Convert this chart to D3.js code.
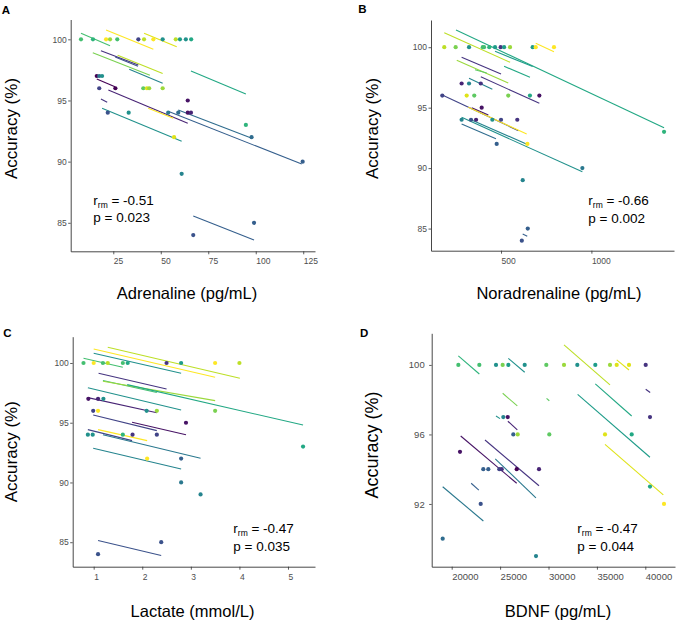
<!DOCTYPE html>
<html>
<head>
<meta charset="utf-8">
<script src="https://cdn.jsdelivr.net/npm/d3@7"></script>
<style>
  html, body { margin: 0; padding: 0; background: #fff; }
  svg { display: block; font-family: "Liberation Sans", Arial, sans-serif; }
</style>
</head>
<body>
<script>
// ---------------- DATA ----------------
// participant colour code: 0..20 on the viridis scale
const participantMax = 20;

// Panel A: Adrenaline (pg/mL) vs Accuracy (%)
const xTicksA = [25, 50, 75, 100, 125];
const yTicksA = [85, 90, 95, 100];
const pointsA = [ // [adrenaline, accuracy, participant]
  [8.0,100,14],[14.3,100,13],[21.2,100,20],[23.3,100,17],[27.1,100,14],[38.2,100,4],[41.2,100,18],
  [46.1,100,20],[51.0,100,10],[57.9,100,18],[60.1,100,11],[63.2,100,10],[66.0,100,12],
  [16.3,97,0],[17.6,97,8],[19.1,97,10],
  [17.6,96,4],[26.1,96,0],[40.8,96,15],[42.7,96,19],[43.9,96,17],[51.0,96,17],
  [64.2,95,1],
  [22.1,94,5],[33.1,94,10],[53.9,94,8],[59.2,94,7],[64.2,94,1],[65.9,94,2],
  [94.8,93,13],
  [57.0,92,19],[97.8,92,7],
  [124.7,90,6],
  [61.0,89,9],
  [99.1,85,6],
  [67.1,84,5]
];
const linesA = [ // [x start, accuracy start, x end, accuracy end, participant]
  [8.0,100.49,23.3,99.48,14],
  [21.2,100.76,46.1,99.18,20],
  [41.2,100.49,58.4,99.40,19],
  [18.5,99.07,38.2,97.90,3],
  [27.3,98.69,51.0,97.20,18],
  [14.2,98.90,44.3,97.06,16],
  [26.0,98.55,38.0,97.80,5],
  [33.4,97.55,51.0,96.40,9],
  [65.9,97.41,94.8,95.53,12],
  [16.3,96.75,25.9,96.12,0],
  [22.4,95.85,64.2,93.13,2],
  [18.5,95.12,21.8,94.85,3],
  [43.4,94.36,56.6,93.54,20],
  [19.1,94.36,61.0,91.66,10],
  [59.2,94.22,97.6,91.93,7],
  [54.2,94.10,124.2,89.80,6],
  [67.1,85.55,99.1,83.59,6]
];
const statA = ["-0.51", "0.023"];

// Panel B: Noradrenaline (pg/mL)
const xTicksB = [500, 1000];
const yTicksB = [85, 90, 95, 100];
const pointsB = [
  [186,100,18],[249,100,16],[323,100,10],[399,100,14],[406,100,14],[435,100,13],[467,100,11],
  [498,100,3],[517,100,11],[550,100,17],[675,100,11],[692,100,20],[793,100,20],
  [282,97,2],[323,97,9],[388,97,3],
  [175,96,4],[310,96,19],[352,96,15],[540,96,16],[660,96,12],[712,96,1],
  [393,95,1],
  [282,94,9],[334,94,5],[362,94,2],[452,94,10],[500,94,4],[590,94,3],
  [1402,93,13],
  [476,92,6],[646,92,20],
  [950,90,8],
  [620,89,9],
  [648,85,6],
  [615,84,5]
];
const linesB = [
  [251,101.42,1402,93.34,12],
  [186,101.20,550,98.75,18],
  [467,99.66,675,98.40,11],
  [517,98.42,660,97.51,12],
  [692,100.32,793,99.63,20],
  [282,99.16,500,97.78,3],
  [255,98.92,540,97.04,17],
  [356,98.14,421,97.87,15],
  [323,97.43,452,96.52,9],
  [388,97.56,712,95.36,3],
  [172,96.07,596,93.10,4],
  [338,95.00,430,94.40,1],
  [319,95.03,642,92.82,20],
  [282,94.20,950,89.70,10],
  [334,94.00,640,92.00,9],
  [282,93.65,472,92.43,7],
  [620,84.55,645,84.36,6]
];
const statB = ["-0.66", "0.002"];

// Panel C: Lactate (mmol/L)
const xTicksC = [1, 2, 3, 4, 5];
const yTicksC = [85, 90, 95, 100];
const pointsC = [
  [0.79,100,14],[1.0,100,20],[1.19,100,14],[1.29,100,18],[1.6,100,14],[1.7,100,12],[2.5,100,3],
  [2.8,100,11],[3.5,100,20],[4.0,100,18],
  [0.89,97,1],[1.09,97,2],[1.2,97,10],
  [0.99,96,4],[1.09,96,20],[2.09,96,10],[2.3,96,17],[3.5,96,16],
  [2.9,95,1],
  [0.88,94,10],[0.98,94,10],[1.6,94,13],[1.8,94,3],[2.3,94,4],
  [5.31,93,12],
  [2.1,92,20],[2.8,92,6],
  [2.8,90,8],
  [3.2,89,9],
  [2.39,85,5],
  [1.09,84,5]
];
const linesC = [
  [1.29,101.31,4.01,98.72,18],
  [1.0,101.17,3.5,98.8,20],
  [1.0,100.81,2.8,99.14,10],
  [0.79,100.39,1.6,99.64,14],
  [1.1,99.14,2.5,97.82,3],
  [1.19,98.53,2.3,97.53,14],
  [1.19,98.47,3.5,96.85,17],
  [1.69,98.19,5.31,94.81,12],
  [0.88,97.93,2.8,96.07,10],
  [0.88,97.1,2.3,95.84,2],
  [0.99,95.65,2.3,94.34,4],
  [1.79,95.04,2.9,94.0,1],
  [0.88,94.42,1.79,93.5,4],
  [1.09,94.42,2.1,93.5,20],
  [1.19,94.0,3.2,92.02,8],
  [0.99,92.86,2.8,91.13,9],
  [1.09,85.14,2.39,83.88,5]
];
const statC = ["-0.47", "0.035"];

// Panel D: BDNF (pg/mL)
const xTicksD = [20000, 25000, 30000, 35000, 40000];
const yTicksD = [92, 96, 100];
const pointsD = [
  [20686,100,14],[22855,100,14],[24576,100,10],[25265,100,16],[25851,100,11],[27541,100,10],
  [29773,100,15],[31601,100,17],[32975,100,10],[34835,100,11],[36353,100,17],[37045,100,19],
  [38316,100,19],[40041,100,3],
  [25331,97,9],[25785,97,1],[40485,97,3],
  [26364,96,6],[26818,96,17],[30083,96,15],[35837,96,19],[38595,96,12],
  [20857,95,1],
  [23264,94,6],[23781,94,6],[24917,94,4],[25165,94,3],[26715,94,0],[29019,94,2],
  [40485,93,12],
  [22996,92,5],[41932,92,20],
  [19070,90,7],
  [28709,89,9]
];
const linesD = [
  [20686,100.52,22855,99.48,13],
  [25851,100.38,27541,99.58,10],
  [31601,101.15,36353,98.85,18],
  [37045,100.29,38316,99.71,19],
  [40041,98.60,40500,98.41,3],
  [25265,98.37,26777,97.64,16],
  [29800,98.08,30083,97.94,15],
  [24576,97.06,24990,96.91,10],
  [25806,96.76,26777,96.26,2],
  [34835,98.91,38591,97.06,12],
  [33009,98.31,40480,94.69,11],
  [35837,95.43,41860,92.52,19],
  [20930,95.91,26715,93.19,1],
  [23440,95.68,29019,93.05,3],
  [24500,94.60,28700,92.35,8],
  [22011,93.19,22803,92.80,6],
  [19070,92.99,23270,91.02,8]
];
const statD = ["-0.47", "0.044"];

// ---------------- LAYOUT ----------------
const panels = [
  { letter: "A", xTitle: "Adrenaline (pg/mL)", xTicks: xTicksA, yTicks: yTicksA, points: pointsA, lines: linesA, stat: statA,
    box: {l: 70.7, r: 315, t: 19.5, b: 251.3}, xDom: [2.58, 131.2], yDom: [82.67, 101.62],
    letterPos: [1.7, 14], yTitlePos: [17.3, 128.5], yTitleSize: 17, xTitlePos: [187, 299],
    statPos: [93.3, 205, 222.3], tickFont: 8.5 },
  { letter: "B", xTitle: "Noradrenaline (pg/mL)", xTicks: xTicksB, yTicks: yTicksB, points: pointsB, lines: linesB, stat: statB,
    box: {l: 431, r: 674, t: 20, b: 250.7}, xDom: [112.6, 1457], yDom: [83.17, 102.25],
    letterPos: [358.3, 13.3], yTitlePos: [377.9, 128.5], yTitleSize: 17, xTitlePos: [559, 299],
    statPos: [588.3, 205, 222.7], tickFont: 8.5 },
  { letter: "C", xTitle: "Lactate (mmol/L)", xTicks: xTicksC, yTicks: yTicksC, points: pointsC, lines: linesC, stat: statC,
    box: {l: 72.7, r: 315, t: 336.7, b: 566.7}, xDom: [0.568, 5.556], yDom: [82.95, 102.2],
    letterPos: [3.3, 336.7], yTitlePos: [17.3, 451.7], yTitleSize: 17, xTitlePos: [192.5, 617.3],
    statPos: [233.3, 533, 551], tickFont: 8.5 },
  { letter: "D", xTitle: "BDNF (pg/mL)", xTicks: xTicksD, yTicks: yTicksD, points: pointsD, lines: linesD, stat: statD,
    box: {l: 431.7, r: 675, t: 333.3, b: 566.7}, xDom: [17934, 43068], yDom: [88.39, 101.82],
    letterPos: [360, 336.7], yTitlePos: [377.7, 445], yTitleSize: 18, xTitlePos: [558, 617.3],
    statPos: [577.3, 533, 551], tickFont: 9.5 }
];

const color = t => d3.interpolateViridis(t / participantMax);

const svg = d3.select("body").append("svg")
  .attr("width", 680).attr("height", 623);
svg.append("rect").attr("width", 680).attr("height", 623).attr("fill", "#fff");

panels.forEach(p => {
  const g = svg.append("g");
  const x = d3.scaleLinear().domain(p.xDom).range([p.box.l, p.box.r]);
  const y = d3.scaleLinear().domain(p.yDom).range([p.box.b, p.box.t]);

  // fitted repeated-measures lines
  g.append("g").selectAll("line").data(p.lines).join("line")
    .attr("x1", d => x(d[0])).attr("y1", d => y(d[1]))
    .attr("x2", d => x(d[2])).attr("y2", d => y(d[3]))
    .attr("stroke", d => color(d[4]))
    .attr("stroke-width", 1.1);

  // points
  g.append("g").selectAll("circle").data(p.points).join("circle")
    .attr("cx", d => x(d[0])).attr("cy", d => y(d[1]))
    .attr("r", 2.1)
    .attr("fill", d => color(d[2]));

  // axes
  const xa = g.append("g").attr("transform", `translate(0,${p.box.b})`)
    .call(d3.axisBottom(x).tickValues(p.xTicks).tickSize(3).tickSizeOuter(0).tickPadding(4).tickFormat(d3.format("d")));
  xa.selectAll("text").attr("text-anchor", "start").attr("x", 0);
  const ya = g.append("g").attr("transform", `translate(${p.box.l},0)`)
    .call(d3.axisLeft(y).tickValues(p.yTicks).tickSize(2.5).tickSizeOuter(0).tickPadding(p.letter === "D" ? 4.5 : 1.5).tickFormat(d3.format("d")));
  [xa, ya].forEach(a => {
    a.select(".domain").attr("stroke", "#333").attr("stroke-width", 0.9);
    a.selectAll(".tick line").attr("stroke", "#333").attr("stroke-width", 0.8);
    a.selectAll(".tick text").attr("fill", "#4d4d4d")
      .style("font-size", p.tickFont + "px")
      .style("font-family", '"Liberation Sans", Arial, sans-serif');
  });

  // panel letter
  g.append("text").attr("x", p.letterPos[0]).attr("y", p.letterPos[1])
    .attr("font-weight", "bold").attr("font-size", 11.5).attr("fill", "#000").text(p.letter);

  // axis titles
  g.append("text")
    .attr("transform", `translate(${p.yTitlePos[0]},${p.yTitlePos[1]}) rotate(-90)`)
    .attr("text-anchor", "middle").attr("font-size", p.yTitleSize).attr("fill", "#000")
    .text("Accuracy (%)");
  g.append("text").attr("x", p.xTitlePos[0]).attr("y", p.xTitlePos[1])
    .attr("text-anchor", "middle").attr("font-size", 16.5).attr("fill", "#000")
    .text(p.xTitle);

  // statistics
  const t1 = g.append("text").attr("x", p.statPos[0]).attr("y", p.statPos[1])
    .attr("font-size", 13.5).attr("fill", "#000");
  t1.append("tspan").text("r");
  t1.append("tspan").attr("font-size", 8.5).attr("dy", 2.8).text("rm");
  t1.append("tspan").attr("dy", -2.8).text(" = " + p.stat[0]);
  g.append("text").attr("x", p.statPos[0]).attr("y", p.statPos[2])
    .attr("font-size", 13.5).attr("fill", "#000").text("p = " + p.stat[1]);
});
</script>
</body>
</html>
